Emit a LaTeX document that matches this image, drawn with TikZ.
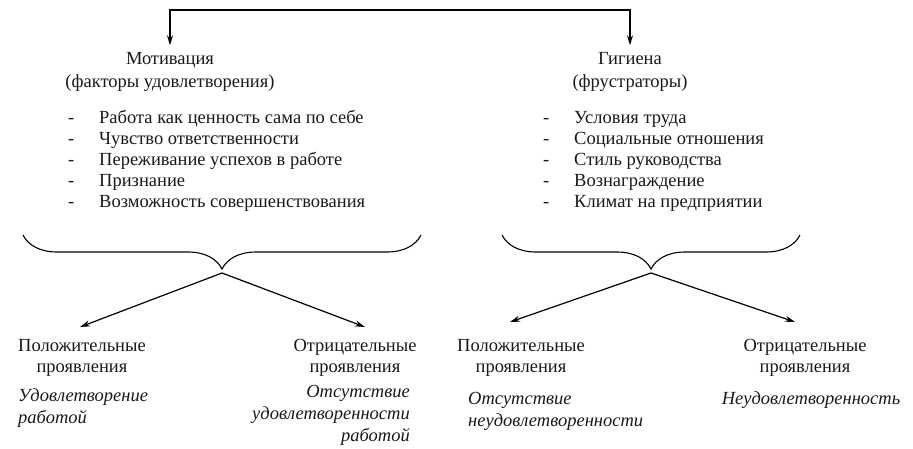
\documentclass[tikz,border=0pt]{standalone}
\usepackage{fontspec}
\setmainfont{Liberation Serif}
\usetikzlibrary{arrows.meta,decorations.pathreplacing}

\tikzset{
  txt/.style={font=\fontsize{18.5}{21}\selectfont, inner sep=0pt, text=black!90},
  ttl/.style={txt, align=center, font=\fontsize{18.5}{23}\selectfont},
  lst/.style={txt, align=left, anchor=west},
  res/.style={txt, font=\fontsize{18.5}{22}\selectfont\itshape},
  arr/.style={-{Stealth[length=10pt,width=6pt]}, line width=1.2pt},
  brc/.style={decorate, decoration={brace, mirror, amplitude=34pt}, line width=1.1pt},
}
\newcommand{\itm}[1]{\makebox[31pt][l]{-}#1}

\begin{document}
\begin{tikzpicture}[x=1pt,y=1pt]
\useasboundingbox (0,0) rectangle (913,448);

% two groups of factors
\node[ttl] (mot) at (170,376) {Мотивация\\(факторы удовлетворения)};
\node[ttl] (hyg) at (630,376) {Гигиена\\(фрустраторы)};
\coordinate (top) at (400,438);
\draw[arr, shorten >=7pt] (top) -| (mot.north);
\draw[arr, shorten >=7pt] (top) -| (hyg.north);

\node[lst] (motl) at (68,287) {\itm{Работа как ценность сама по себе}\\
  \itm{Чувство ответственности}\\
  \itm{Переживание успехов в работе}\\
  \itm{Признание}\\
  \itm{Возможность совершенствования}};
\node[lst] (hygl) at (543,287) {\itm{Условия труда}\\
  \itm{Социальные отношения}\\
  \itm{Стиль руководства}\\
  \itm{Вознаграждение}\\
  \itm{Климат на предприятии}};

% braces
\draw[brc] (23,213) -- (421,213);
\draw[brc] (502,213) -- (800,213);
\coordinate (tipL) at (222,175);
\coordinate (tipR) at (651,175);
\coordinate (endL1) at (80,121);
\coordinate (endL2) at (365,121);
\coordinate (endR1) at (510,126);
\coordinate (endR2) at (795,126);
\draw[arr] (tipL) -- (endL1);
\draw[arr] (tipL) -- (endL2);
\draw[arr] (tipR) -- (endR1);
\draw[arr] (tipR) -- (endR2);

% results
\node[txt, align=center] (posL) at (82,90) {Положительные\\проявления};
\node[txt, align=center] (negL) at (355,90) {Отрицательные\\проявления};
\node[txt, align=center] (posR) at (521,90) {Положительные\\проявления};
\node[txt, align=center] (negR) at (805,90) {Отрицательные\\проявления};

\node[res, align=left, anchor=west] (resL1) at (18,39.5) {Удовлетворение\\работой};
\node[res, align=right, anchor=east] (resL2) at (410,32.5) {Отсутствие\\удовлетворенности\\работой};
\node[res, align=left, anchor=west] (resR1) at (468,37) {Отсутствие\\неудовлетворенности};
\node[res] (resR2) at (811,48) {Неудовлетворенность};
\end{tikzpicture}
\end{document}
